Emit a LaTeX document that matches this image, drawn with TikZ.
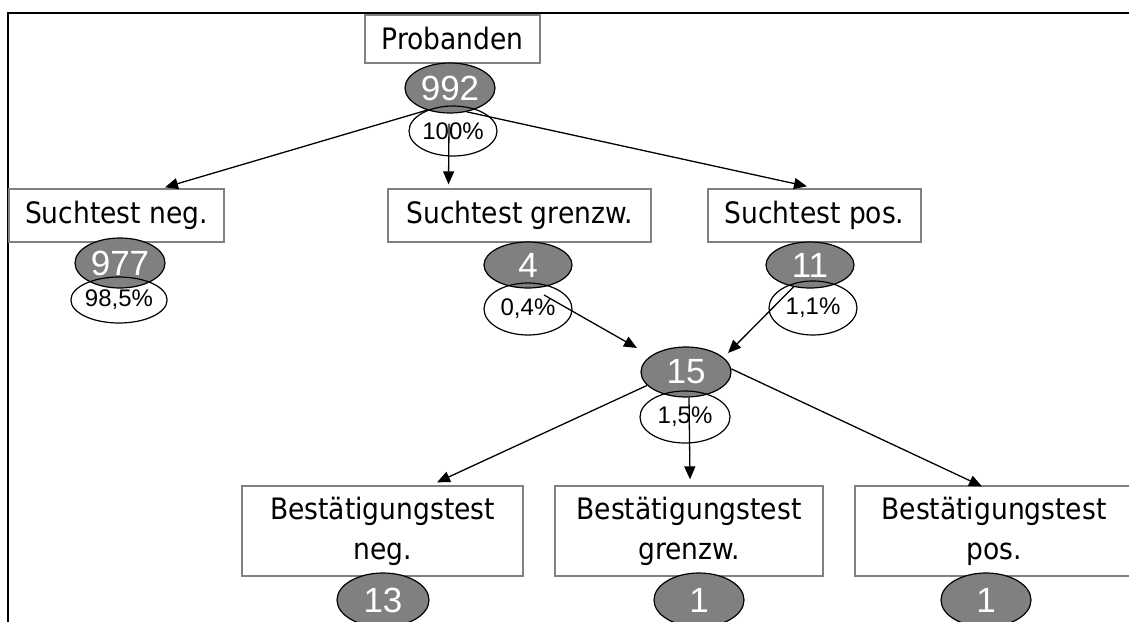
\documentclass[tikz,border=0pt]{standalone}
\usepackage{fontspec}
\setmainfont{DejaVu Sans Condensed}
\newfontfamily\numfont{Liberation Sans}
\usetikzlibrary{arrows.meta,calc,shapes.geometric}
\definecolor{boxgray}{RGB}{128,128,128}
\definecolor{numgray}{RGB}{128,128,128}
\begin{document}
\begin{tikzpicture}[x=1pt,y=-1pt,
  box/.style={draw=boxgray,line width=1.3pt,fill=white,inner sep=0pt,font=\fontsize{29.5}{40}\selectfont,align=center},
  num/.style={ellipse,draw=black,line width=1.2pt,fill=numgray,text=white,inner sep=0pt,minimum width=90pt,minimum height=50pt,font=\numfont\fontsize{35}{35}\selectfont},
  pct/.style={ellipse,draw=black,line width=1.2pt,inner sep=0pt,minimum width=88pt,minimum height=50pt,font=\numfont\fontsize{24}{24}\selectfont},
  arr/.style={line width=1.3pt,-{Triangle[length=13pt,width=11pt]}},
  frame/.style={line width=2.6pt,line cap=rect}
]
\useasboundingbox (0,0) rectangle (1129,621);
\clip (0,0) rectangle (1129,621);

% frame
\draw[frame] (8,625) -- (8,13) -- (1135,13);

% top level
\node[box,minimum width=175pt,minimum height=48pt] (prob) at (452.5,39) {Probanden};
\node[num] (n992) at (450,88) {992};
\node[pct] (p100) at (453,131) {100\%};

% Suchtest row
\node[box,minimum width=215pt,minimum height=53pt] (sneg) at (116.5,215.5) {Suchtest neg.};
\node[num] (n977) at (120,263) {977};
\node[pct,minimum width=90pt,minimum height=46pt] (p985) at (119,300) {98,5\%};

\node[box,minimum width=263pt,minimum height=53pt] (sgr) at (519.5,215.5) {Suchtest grenzw.};
\node[num,minimum width=88pt,minimum height=46pt] (n4) at (528,265) {4};
\node[pct,minimum height=52pt] (p04) at (528,309) {0,4\%};

\node[box,minimum width=213pt,minimum height=53pt] (spos) at (814.5,215.5) {Suchtest pos.};
\node[num,minimum width=88pt,minimum height=46pt] (n11) at (810,265) {11};
\node[pct,minimum height=54pt] (p11) at (813,308) {1,1\%};

% merge
\node[num] (n15) at (686,372) {15};
\node[pct,minimum width=90pt,minimum height=52pt] (p15) at (685,417) {1,5\%};

% Bestaetigungstest row
\node[box,minimum width=281pt,minimum height=90pt] (bneg) at (382.5,531) {Bestätigungstest\\neg.};
\node[num,minimum width=92pt,minimum height=54pt] (n13) at (383,600) {13};
\node[box,minimum width=268pt,minimum height=90pt] (bgr) at (689,531) {Bestätigungstest\\grenzw.};
\node[num,minimum width=90pt,minimum height=54pt] (n1a) at (699,600) {1};
\node[box,minimum width=278pt,minimum height=90pt] (bpos) at (994,531) {Bestätigungstest\\pos.};
\node[num,minimum width=90pt,minimum height=54pt] (n1b) at (986,600) {1};

% connectors
\draw[arr] (n992.224) -- ($(sneg.north)+(48.5,-1)$);
\draw[arr] ($(n992.south)+(-1,10)$) -- ($(sgr.north)+(-71,-4)$);
\draw[arr] (n992.305) -- ($(spos.north)+(-7.5,-2)$);
\draw[arr] ($(n4.center)+(16,30)$) -- ($(n15.center)+(-49,-24)$);
\draw[arr] (n11.233) -- ($(n15.center)+(42,-19)$);
\draw[arr] (n15.199) -- ($(bneg.north)+(54.5,-3)$);
\draw[arr] ($(n15.south)+(3,0)$) -- ($(bgr.north)+(1,-6)$);
\draw[arr] (n15.4) -- ($(bpos.north)+(-12,1)$);
\end{tikzpicture}
\end{document}
